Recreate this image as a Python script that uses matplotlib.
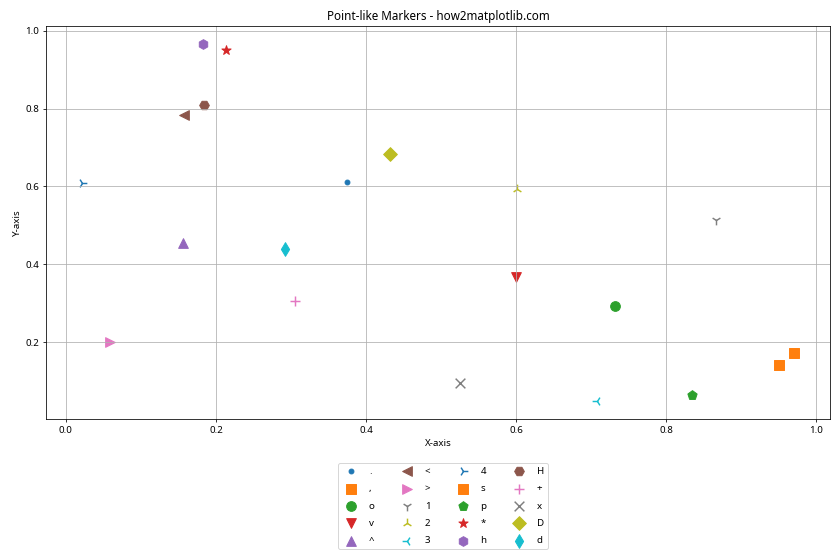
import numpy as np
import matplotlib
matplotlib.use('Agg')
from matplotlib import pyplot as plt

plt.rcParams['font.family'] = ['Noto Sans', 'DejaVu Sans']

markers = ['.', ',', 'o', 'v', '^', '<', '>', '1', '2', '3', '4',
           's', 'p', '*', 'h', 'H', '+', 'x', 'D', 'd']
x_vals = [0.375, 0.951, 0.732, 0.600, 0.156, 0.157, 0.059, 0.867, 0.601, 0.708,
          0.021, 0.971, 0.834, 0.214, 0.183, 0.184, 0.306, 0.526, 0.432, 0.292]
y_vals = [0.612, 0.141, 0.293, 0.368, 0.454, 0.784, 0.200, 0.513, 0.593, 0.049,
          0.608, 0.172, 0.065, 0.951, 0.966, 0.808, 0.306, 0.096, 0.684, 0.439]

fig = plt.figure(figsize=(12, 8), dpi=70)
for m, xv, yv in zip(markers, x_vals, y_vals):
    plt.scatter(xv, yv, marker=m, s=100, label=m)

plt.title('Point-like Markers - how2matplotlib.com')
plt.xlabel('X-axis')
plt.ylabel('Y-axis')
plt.legend(loc='upper center', bbox_to_anchor=(0.506, -0.1), ncol=4,
           labelspacing=0.85, columnspacing=2.35)
plt.grid(True)
plt.subplots_adjust(left=0.0548, right=0.988, top=0.9536, bottom=0.2518)
plt.savefig('out.png', dpi=70)
